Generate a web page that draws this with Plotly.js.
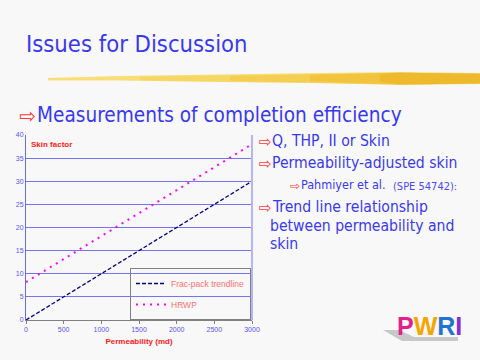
<!DOCTYPE html>
<html><head><meta charset="utf-8">
<script src="https://cdn.plot.ly/plotly-3.0.1.min.js"></script>
<style>html,body{margin:0;padding:0;background:#f8f8f8;}</style>
</head><body><div id="chart" style="width:480px;height:360px;"></div>
<script>
// ---- data ----
const permeability = [0, 3000];
const fracPackSkin = [0, 30];
const hrwpSkin = [8.2, 38];
const seriesNames = ['Frac-pack trendline', 'HRWP'];
const xTickVals = [0, 500, 1000, 1500, 2000, 2500, 3000];
const yTickVals = [0, 5, 10, 15, 20, 25, 30, 35, 40];
const slideTitle = 'Issues for Discussion';
const mainBullet = 'Measurements of completion efficiency';
const subBullets = ['Q, THP, II or Skin', 'Permeability-adjusted skin'];
const refAuthor = 'Pahmiyer et al.';
const refPaper = '(SPE 54742):';
const trendLines = ['Trend line relationship', 'between permeability and', 'skin'];
const logoLetters = ['P', 'W', 'R', 'I'];
const logoColors = ['#e0208c', '#f6a400', '#1e74d0', '#8a2ad8'];

// ---- helpers (pixel -> paper) ----
const W = 480, H = 360;
const px = x => x / W;
const py = y => 1 - y / H;
const FONT = "'DejaVu Sans Condensed', 'Noto Sans', sans-serif";
const BLUE = '#3838f0';
const ARROW = '#ff3a3a';
const pathOf = pts => 'M ' + pts.map(p => px(p[0]) + ',' + py(p[1])).join(' L ') + ' Z';

const traces = [
  {x: permeability, y: fracPackSkin, name: seriesNames[0], mode: 'lines', legendgroup: 'a',
   line: {color: '#000080', width: 1.3, dash: '4px,2px'}},
  {x: permeability, y: hrwpSkin, name: seriesNames[1], mode: 'lines', legendgroup: 'b',
   line: {color: '#ff00ff', width: 2, dash: '2px,5px'}}
];

const ann = [];
function txt(t, x, y, size, color, extra) {
  ann.push(Object.assign({text: t, x: px(x), y: py(y), xref: 'paper', yref: 'paper',
    xanchor: 'left', yanchor: 'middle', showarrow: false,
    font: {family: FONT, size: size, color: color}}, extra || {}));
}
function arrow(x, y, size) {
  ann.push({text: '\u21E8', x: px(x), y: py(y), xref: 'paper', yref: 'paper',
    xanchor: 'left', yanchor: 'middle', showarrow: false,
    font: {family: 'DejaVu Sans', size: size, color: ARROW}});
}
// main bullet
arrow(17, 116, 20);
txt(mainBullet, 35, 115, 20.6, BLUE);
// right bullets
arrow(257, 142, 15);
txt(subBullets[0], 270, 141, 15.6, BLUE);
arrow(257, 164, 15);
txt(subBullets[1], 270, 163, 15.6, BLUE);
arrow(288, 186, 12);
txt(refAuthor, 299, 185, 12.5, BLUE);
txt(refPaper, 391, 186, 11, '#4a4af0');
arrow(257, 208, 15);
txt(trendLines[0], 270, 207, 15.6, BLUE);
txt(trendLines[1], 268, 226, 15.6, BLUE);
txt(trendLines[2], 268, 244, 15.6, BLUE);
// skin factor label
ann.push({text: '<b>Skin factor</b>', x: px(29), y: py(144), xref: 'paper', yref: 'paper',
  xanchor: 'left', yanchor: 'middle', showarrow: false,
  font: {family: 'Liberation Sans, Arial, sans-serif', size: 8, color: '#ff2020'}});
// logo (one text, coloured letters)
const logoText = logoLetters.map((l, i) => '<span style="color:' + logoColors[i] + '">' + l + '</span>').join('');
ann.push({text: '<b>' + logoText + '</b>', x: px(429), y: py(326), xref: 'paper', yref: 'paper',
  xanchor: 'center', yanchor: 'middle', showarrow: false,
  font: {family: 'Liberation Sans, Arial, sans-serif', size: 25, color: logoColors[0]}});

const stroke = (x0, c, a) => ({type: 'path', xref: 'paper', yref: 'paper', layer: 'below', line: {width: 0},
  fillcolor: 'rgba(' + c + ',' + a + ')',
  path: pathOf([[x0, 74 + (400 - Math.min(x0, 400)) * 0.012], [400, 72.8], [480, 73.8], [480, 83.6], [400, 84.5], [x0, 81.5 - (400 - Math.min(x0, 400)) * 0.005]])});

const shapes = [
  // yellow brush stroke
  {type: 'path', xref: 'paper', yref: 'paper', layer: 'below', line: {width: 0}, fillcolor: '#f8de74',
   path: pathOf([[48,78],[120,76],[220,74.5],[320,73],[400,72],[480,73],[480,84],[400,85],[320,83],[220,82],[120,80.5],[48,80.5]])},
  stroke(140, '244,206,80', 0.45),
  stroke(230, '242,196,60', 0.45),
  stroke(310, '240,184,40', 0.45),
  stroke(380, '236,172,24', 0.45),
  // logo shadow
  {type: 'path', xref: 'paper', yref: 'paper', layer: 'below', line: {width: 0}, fillcolor: '#c8c8c8',
   path: pathOf([[383,330],[399,330],[414,337],[458,337],[458,341],[402,341]])},
  // right border of plot
  {type: 'line', xref: 'x domain', yref: 'y domain', x0: 1, x1: 1, y0: 0, y1: 1,
   line: {color: '#b4b4fa', width: 2}}
];

const layout = {
  width: W, height: H, autosize: false,
  margin: {l: 0, r: 0, t: 0, b: 0},
  paper_bgcolor: '#f8f8f8', plot_bgcolor: '#f8f8f8',
  title: {text: slideTitle, x: px(26), xanchor: 'left', xref: 'paper', y: py(44), yanchor: 'middle', yref: 'paper',
    font: {family: FONT, size: 23.6, color: BLUE}},
  xaxis: {domain: [px(26), px(252)], range: [0, 3000], tickvals: xTickVals, showgrid: false,
    showline: true, linecolor: '#808080', linewidth: 1, ticks: 'outside', ticklen: 3, tickcolor: '#808080',
    tickfont: {family: 'Liberation Sans, Arial, sans-serif', size: 7, color: '#5555ee'}, zeroline: false,
    title: {text: '<b>Permeability (md)</b>', standoff: 5,
      font: {family: 'Liberation Sans, Arial, sans-serif', size: 8, color: '#ff2020'}}},
  yaxis: {domain: [py(320), py(135)], range: [0, 40], tickvals: yTickVals, showgrid: true,
    gridcolor: '#7474f2', gridwidth: 1, showline: true, linecolor: '#6a6af0', ticks: '',
    tickfont: {family: 'Liberation Sans, Arial, sans-serif', size: 7, color: '#5555ee'}, zeroline: false},
  showlegend: true,
  legend: {x: px(251), xanchor: 'right', y: py(268), yanchor: 'top', bgcolor: 'rgba(0,0,0,0)',
    bordercolor: '#808080', borderwidth: 1, tracegroupgap: 2, traceorder: 'grouped', itemwidth: 30,
    font: {family: 'Liberation Sans, Arial, sans-serif', size: 8.5, color: '#ff7070'}},
  annotations: ann,
  shapes: shapes
};
Plotly.newPlot('chart', traces, layout, {displayModeBar: false, staticPlot: true});
</script></body></html>
